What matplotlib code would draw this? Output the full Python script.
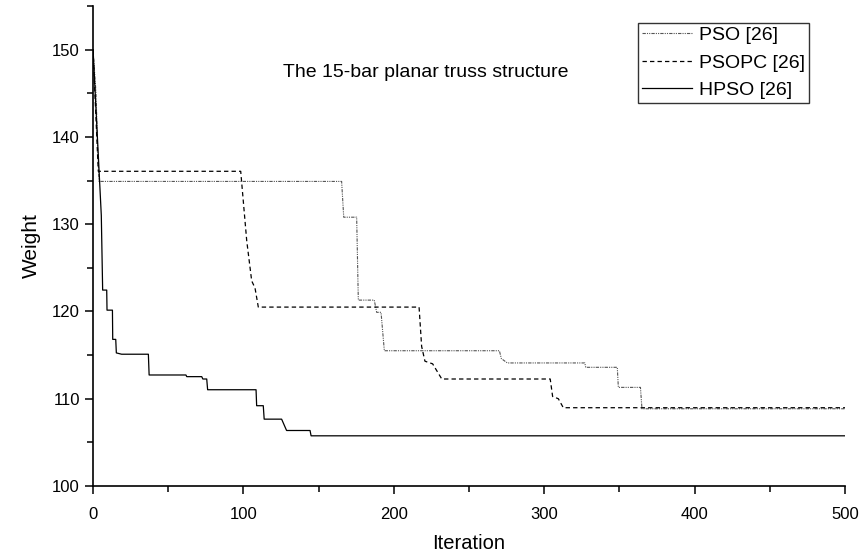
"""Convergence history of PSO variants on the 15-bar planar truss."""

import matplotlib

matplotlib.use("Agg")
import matplotlib.pyplot as plt
from matplotlib.ticker import MultipleLocator

plt.rcParams["font.family"] = ["Liberation Sans", "DejaVu Sans"]

# step vertices (iteration, weight)
pso_iter = [0, 2, 3, 4, 165.3, 166.7, 175.3, 176.4, 187, 188.6, 191.5, 193.7,
            270.2, 271.5, 275.5, 327, 327.6, 348.6, 349.3, 364, 365, 500]
pso_weight = [150, 145, 139, 134.9, 134.9, 130.8, 130.8, 121.3, 121.3, 119.9, 119.9, 115.5,
              115.5, 114.6, 114.1, 114.1, 113.6, 113.6, 111.3, 111.3, 108.85, 108.85]

psopc_iter = [0, 1.5, 3, 3.5, 98.2, 102.2, 105.5, 107.7, 109.9, 216.8, 218.5, 220.7,
              225.8, 231.9, 304, 305.6, 309.4, 312.7, 500]
psopc_weight = [150, 144, 138, 136.06, 136.06, 128.1, 123.5, 122.7, 120.5, 120.5, 116.0, 114.3,
                114.0, 112.26, 112.26, 110.26, 110.0, 108.97, 108.97]

hpso_iter = [0, 5.5, 6.4, 9.1, 9.3, 12.9, 13.1, 15.1, 15.5, 19, 36.8, 37.3, 61.8, 62.3,
             72.3, 73, 75.6, 76.2, 108.4, 108.8, 113.2, 113.8, 125.4, 128.7, 144.3, 145, 500]
hpso_weight = [150, 131, 122.45, 122.45, 120.15, 120.15, 116.8, 116.8, 115.25, 115.1, 115.1,
               112.72, 112.72, 112.53, 112.53, 112.26, 112.26, 111.03, 111.03, 109.2, 109.2,
               107.66, 107.66, 106.36, 106.36, 105.75, 105.75]

labels = ["PSO [26]", "PSOPC [26]", "HPSO [26]"]


def main() -> None:
    fig = plt.figure(figsize=(8.67, 5.56), dpi=100)
    ax = fig.add_axes([0.1073, 0.1259, 0.8673, 0.8633])

    ax.plot(pso_iter, pso_weight, color="#555555", linewidth=0.8,
            linestyle=(0, (3, 1, 1, 1, 1, 1)), label=labels[0])
    ax.plot(psopc_iter, psopc_weight, color="black", linewidth=0.9,
            linestyle=(0, (3.5, 2.5)), label=labels[1])
    ax.plot(hpso_iter, hpso_weight, color="black", linewidth=0.9, label=labels[2])

    ax.set_xlim(0, 500)
    ax.set_ylim(100, 155)
    ax.xaxis.set_major_locator(MultipleLocator(100))
    ax.xaxis.set_minor_locator(MultipleLocator(50))
    ax.yaxis.set_major_locator(MultipleLocator(10))
    ax.yaxis.set_minor_locator(MultipleLocator(5))
    ax.tick_params(which="major", direction="out", length=6, width=1.1, labelsize=12)
    ax.tick_params(which="minor", direction="out", length=4, width=1.1)
    ax.tick_params(axis="x", which="major", pad=9)
    ax.spines["top"].set_visible(False)
    ax.spines["right"].set_visible(False)
    for side in ("left", "bottom"):
        ax.spines[side].set_linewidth(1.2)

    ax.set_xlabel("Iteration", fontsize=14.5, labelpad=9)
    ax.set_ylabel("Weight", fontsize=15, labelpad=8)

    ax.text(126, 147.4, "The 15-bar planar truss structure", fontsize=14, va="center")

    leg = ax.legend(loc="upper right", bbox_to_anchor=(0.952, 0.965), borderaxespad=0,
                    fontsize=14, fancybox=False, frameon=True, handlelength=2.6,
                    handletextpad=0.35, borderpad=0.2, labelspacing=0.5)
    leg.get_frame().set_edgecolor("black")
    leg.get_frame().set_linewidth(1.0)

    fig.savefig("out.png", dpi=100)
    plt.close(fig)


if __name__ == "__main__":
    main()
